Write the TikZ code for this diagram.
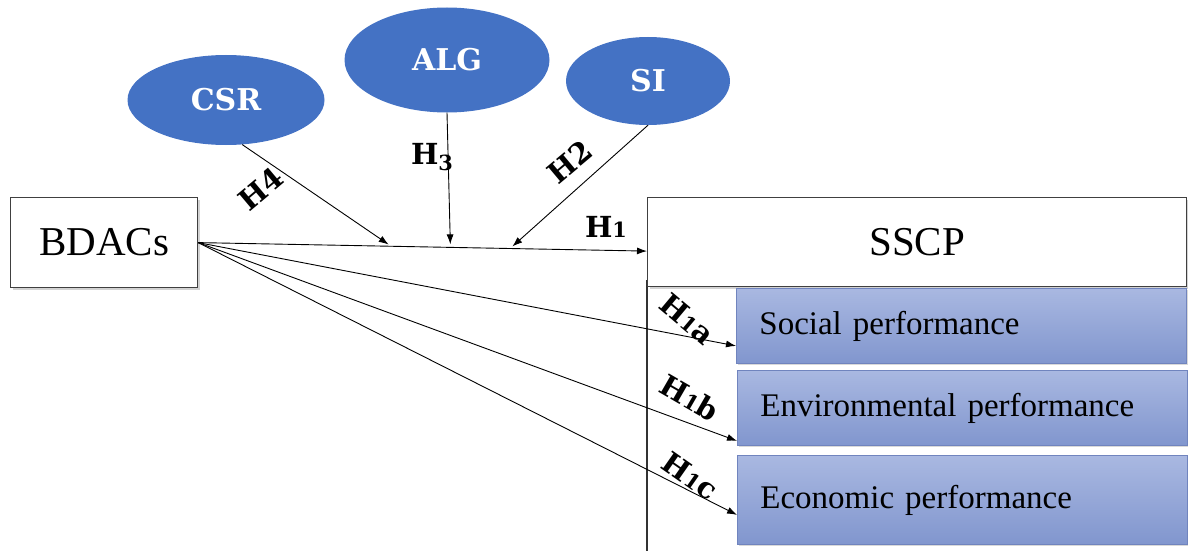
\documentclass[tikz,border=0pt]{standalone}
\usepackage{fontspec}
\usepackage{graphicx}
\setmainfont{Liberation Serif}
\newfontfamily\labelfont{DejaVu Serif}
\usetikzlibrary{shapes.geometric,shadows,arrows.meta}
\definecolor{ovalblue}{HTML}{4472C4}
\definecolor{dimtop}{HTML}{A9B8E1}
\definecolor{dimbot}{HTML}{8196CE}
\definecolor{dimedge}{HTML}{7084BE}
% old-style looking digits: shrunk to x-height, the 3 dropped below the baseline
\newcommand{\osone}{\scalebox{0.72}{1}}
\newcommand{\osthree}{\raisebox{-0.2em}{\scalebox{0.72}{3}}}
\tikzset{
  whitebox/.style={draw=black!75, line width=1.2pt, fill=white, inner sep=0pt,
    font=\fontsize{41}{45}\selectfont,
    drop shadow={opacity=0.35, shadow xshift=2pt, shadow yshift=-2pt}},
  dimbox/.style={draw=dimedge, line width=0.8pt, top color=dimtop, bottom color=dimbot,
    minimum width=450pt, text width=404pt, inner xsep=23pt, align=left,
    font=\fontsize{33}{37}\selectfont,
    drop shadow={opacity=0.3, shadow xshift=2pt, shadow yshift=-2pt}},
  oval/.style={ellipse, fill=ovalblue, inner sep=0pt, text=white,
    font=\labelfont\bfseries\fontsize{30}{34}\selectfont},
  hyp/.style={font=\labelfont\bfseries\fontsize{29}{33}\selectfont, inner sep=1pt},
  link/.style={line width=0.9pt, -{Latex[length=10pt,width=7pt]}}
}
\begin{document}
\begin{tikzpicture}[x=1pt,y=-1pt]
\useasboundingbox (0,0) rectangle (1188,551);

% moderators
\node[oval, minimum width=197pt, minimum height=90pt] (csr) at (226,100) {CSR};
\node[oval, minimum width=205pt, minimum height=105pt] (alg) at (447,60) {ALG};
\node[oval, minimum width=164pt, minimum height=88pt] (si) at (648,81) {SI};

% main constructs
\node[whitebox, minimum width=187pt, minimum height=90pt, anchor=north west] (bdacs) at (10,197) {BDACs};
\draw[line width=1.2pt, black!80] (647,280) coordinate (vtop) -- (647,551) coordinate (vbot);
\node[whitebox, minimum width=539pt, minimum height=89pt, anchor=north west] (sscp) at (647,197) {SSCP};

% dimensions of SSCP
\node[dimbox, minimum height=75pt, anchor=north west] (soc) at (736,288) {Social performance};
\node[dimbox, minimum height=75pt, anchor=north west] (env) at (737,370) {Environmental performance};
\node[dimbox, minimum height=89pt, anchor=north west] (eco) at (737,455) {Economic performance};

% direct effects
\draw[link] (bdacs.east) -- ([yshift=-9pt]sscp.west) coordinate (h1end);
\path (bdacs.east) -- (h1end)
  coordinate[pos=0.43] (mcsr)
  coordinate[pos=0.562] (malg)
  coordinate[pos=0.695] (msi);
\draw[link] (bdacs.east) -- ([yshift=-20pt]soc.west);
\draw[link] (bdacs.east) -- ([yshift=-33pt]env.west);
\draw[link] (bdacs.east) -- ([yshift=-15pt]eco.west);

% moderating effects
\draw[link, shorten >=3pt] (csr.-70) -- (mcsr);
\draw[link, shorten >=3pt] (alg.south) -- (malg);
\draw[link, shorten >=3pt] (si.south) -- (msi);

% hypothesis labels
\node[hyp, rotate=40] (lh4) at (261,189) {H4};
\node[hyp] (lh3) at (432,157) {H\osthree};
\node[hyp, rotate=40] (lh2) at (570,162) {H2};
\node[hyp] (lh1) at (606,227) {H\osone};
\node[hyp, rotate=-40] (lh1a) at (687,319) {H\osone a};
\node[hyp, rotate=-30] (lh1b) at (690,398) {H\osone b};
\node[hyp, rotate=-35] (lh1c) at (690,476) {H\osone c};
\end{tikzpicture}
\end{document}
